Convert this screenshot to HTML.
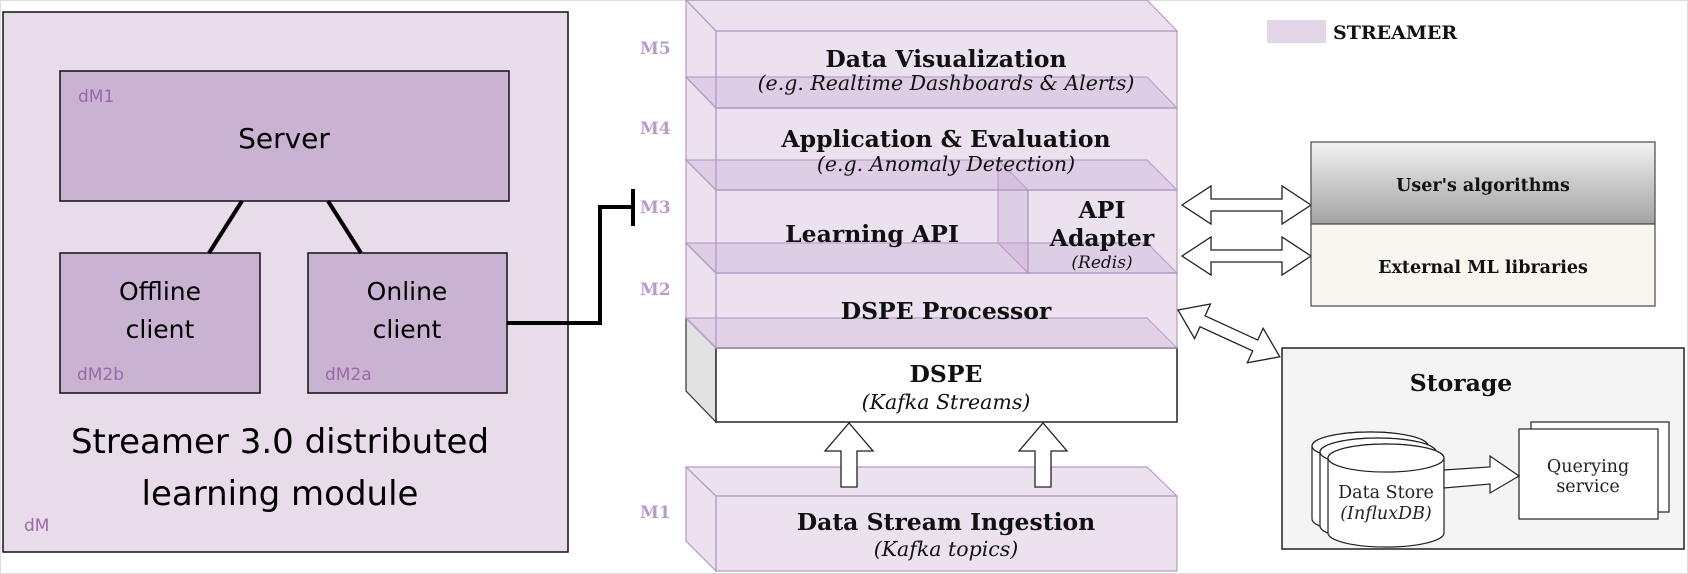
<!DOCTYPE html>
<html><head><meta charset="utf-8"><style>
html,body{margin:0;padding:0;background:#fff}
svg{display:block}
.s{font-family:"DejaVu Sans","Liberation Sans",sans-serif}
.f{font-family:"DejaVu Serif","Liberation Serif",serif}
</style></head><body>
<svg width="1688" height="574" viewBox="0 0 1688 574" xmlns="http://www.w3.org/2000/svg">
<rect x="0" y="0" width="1688" height="574" fill="#fff"/>
<rect x="0.5" y="0.5" width="1687" height="573" fill="none" stroke="#ddd"/>
<rect x="3" y="12" width="565" height="540" fill="#e9dcea" stroke="#111" stroke-width="1.5"/>
<rect x="60" y="71" width="449" height="130" fill="#cab2d2" stroke="#111" stroke-width="1.5"/>
<rect x="60" y="253" width="200" height="140" fill="#cab2d2" stroke="#111" stroke-width="1.5"/>
<rect x="308" y="253" width="199" height="140" fill="#cab2d2" stroke="#111" stroke-width="1.5"/>
<line x1="242" y1="201" x2="209" y2="253" stroke="#000" stroke-width="4"/>
<line x1="328" y1="201" x2="361" y2="253" stroke="#000" stroke-width="4"/>
<g class="s" fill="#9a6aa8" font-size="17">
<text x="78" y="102">dM1</text><text x="77" y="380">dM2b</text><text x="325" y="380">dM2a</text><text x="24" y="531">dM</text>
</g>
<g class="s" fill="#000" text-anchor="middle">
<text x="284" y="148" font-size="28">Server</text>
<text x="160" y="300" font-size="25">Offline</text><text x="160" y="338" font-size="25">client</text>
<text x="407" y="300" font-size="25">Online</text><text x="407" y="338" font-size="25">client</text>
<text x="280" y="453" font-size="34">Streamer 3.0 distributed</text>
<text x="280" y="505" font-size="34">learning module</text>
</g>
<polyline points="507,323 600,323 600,207 633,207" fill="none" stroke="#000" stroke-width="4"/>
<line x1="633" y1="189" x2="633" y2="226" stroke="#000" stroke-width="4"/>
<g class="f" fill="#b79ccb" font-size="17" font-weight="bold">
<text x="640" y="54">M5</text><text x="640" y="134">M4</text><text x="640" y="213">M3</text><text x="640" y="295">M2</text><text x="640" y="518">M1</text>
</g>
<g stroke="#b69ac4" stroke-width="1.2" fill="rgba(200,172,212,0.36)">
<polygon points="686,318 716,348 716,422 686,391" fill="#e2e2e2" stroke="#333"/>
<polygon points="686,318 1147,318 1177,348 716,348" fill="rgba(200,172,212,0.3)"/>
<rect x="716" y="348" width="461" height="74" fill="#fff" stroke="#222" stroke-width="1.5"/>
<polygon points="686,243 716,273 716,348 686,318"/>
<polygon points="686,243 1147,243 1177,273 716,273"/>
<rect x="716" y="273" width="461" height="75"/>
<polygon points="686,160 716,190 716,273 686,243"/>
<polygon points="686,160 1147,160 1177,190 716,190"/>
<polygon points="998,160 1028,190 1028,273 998,243"/>
<rect x="716" y="190" width="312" height="83"/>
<rect x="1028" y="190" width="149" height="83"/>
<polygon points="686,77 716,108 716,190 686,160"/>
<polygon points="686,77 1147,77 1177,108 716,108"/>
<rect x="716" y="108" width="461" height="82"/>
<polygon points="686,0 716,31 716,108 686,77"/>
<polygon points="686,0 1147,0 1177,31 716,31"/>
<rect x="716" y="31" width="461" height="77"/>
<polygon points="686,467 716,496 716,571 686,541"/>
<polygon points="686,467 1147,467 1177,496 716,496"/>
<rect x="716" y="496" width="461" height="75"/>
</g>
<g class="f" text-anchor="middle" fill="#111">
<text x="946" y="67" font-size="23.5" font-weight="bold">Data Visualization</text>
<text x="946" y="90" font-size="20.5" font-style="italic">(e.g. Realtime Dashboards &amp; Alerts)</text>
<text x="946" y="147" font-size="23.5" font-weight="bold">Application &amp; Evaluation</text>
<text x="946" y="171" font-size="20.5" font-style="italic">(e.g. Anomaly Detection)</text>
<text x="872" y="242" font-size="23.5" font-weight="bold">Learning API</text>
<text x="1102" y="218" font-size="23.5" font-weight="bold">API</text>
<text x="1102" y="246" font-size="23.5" font-weight="bold">Adapter</text>
<text x="1102" y="268" font-size="17" font-style="italic">(Redis)</text>
<text x="946" y="319" font-size="23.5" font-weight="bold">DSPE Processor</text>
<text x="946" y="382" font-size="23.5" font-weight="bold">DSPE</text>
<text x="946" y="409" font-size="20.5" font-style="italic">(Kafka Streams)</text>
<text x="946" y="530" font-size="23.5" font-weight="bold">Data Stream Ingestion</text>
<text x="946" y="556" font-size="20.5" font-style="italic">(Kafka topics)</text>
</g>
<g fill="#fff" stroke="#222" stroke-width="1.3">
<polygon points="841,487 841,451 825,451 849,423 873,451 857,451 857,487"/>
<polygon points="1035,487 1035,451 1019,451 1043,423 1067,451 1051,451 1051,487"/>
<polygon points="1182,205 1211,186 1211,199 1282,199 1282,186 1311,205 1282,224 1282,211 1211,211 1211,224"/>
<polygon points="1182,256 1211,237 1211,250 1282,250 1282,237 1311,256 1282,275 1282,262 1211,262 1211,275"/>
<g transform="translate(1178,310) rotate(24.7)">
<polygon points="0,0 27,-19 27,-6 85,-6 85,-19 112,0 85,19 85,6 27,6 27,19"/>
</g>
</g>
<rect x="1267" y="20" width="59" height="23" fill="#e2d5e7"/>
<text x="1333" y="39" class="f" font-size="19" font-weight="bold" fill="#111">STREAMER</text>
<defs><linearGradient id="g" x1="0" y1="0" x2="0" y2="1"><stop offset="0" stop-color="#f2f2f2"/><stop offset="1" stop-color="#a2a2a2"/></linearGradient></defs>
<rect x="1311" y="142" width="344" height="82" fill="url(#g)" stroke="#555" stroke-width="1.3"/>
<rect x="1311" y="224" width="344" height="82" fill="#f8f6ee" stroke="#555" stroke-width="1.3"/>
<g class="f" font-weight="bold" font-size="17.5" text-anchor="middle" fill="#111">
<text x="1483" y="191">User's algorithms</text>
<text x="1483" y="273">External ML libraries</text>
</g>
<rect x="1282" y="348" width="402" height="201" fill="#f4f4f4" stroke="#222" stroke-width="1.5"/>
<text x="1461" y="391" class="f" font-weight="bold" font-size="23.5" text-anchor="middle" fill="#111">Storage</text>
<g fill="#fff" stroke="#222" stroke-width="1.2">
<path d="M1312,446 L1312,519 A58,14 0 0 0 1428,519 L1428,446 A58,14 0 0 0 1312,446 Z"/>
<ellipse cx="1370" cy="446" rx="58" ry="14"/>
<path d="M1320,452 L1320,526 A58,14 0 0 0 1436,526 L1436,452 A58,14 0 0 0 1320,452 Z"/>
<ellipse cx="1378" cy="452" rx="58" ry="14"/>
<path d="M1328,458 L1328,533 A58,14 0 0 0 1444,533 L1444,458 A58,14 0 0 0 1328,458 Z"/>
<ellipse cx="1386" cy="458" rx="58" ry="14"/>
<rect x="1531" y="422" width="138" height="90"/>
<rect x="1519" y="429" width="139" height="90"/>
<polygon points="1444,470 1490,467 1490,456 1519,476 1490,493 1490,484 1444,488"/>
</g>
<g class="f" font-size="17.5" text-anchor="middle" fill="#222">
<text x="1386" y="498">Data Store</text>
<text x="1386" y="519" font-style="italic">(InfluxDB)</text>
<text x="1588" y="472">Querying</text>
<text x="1588" y="492">service</text>
</g>
</svg>
</body></html>
